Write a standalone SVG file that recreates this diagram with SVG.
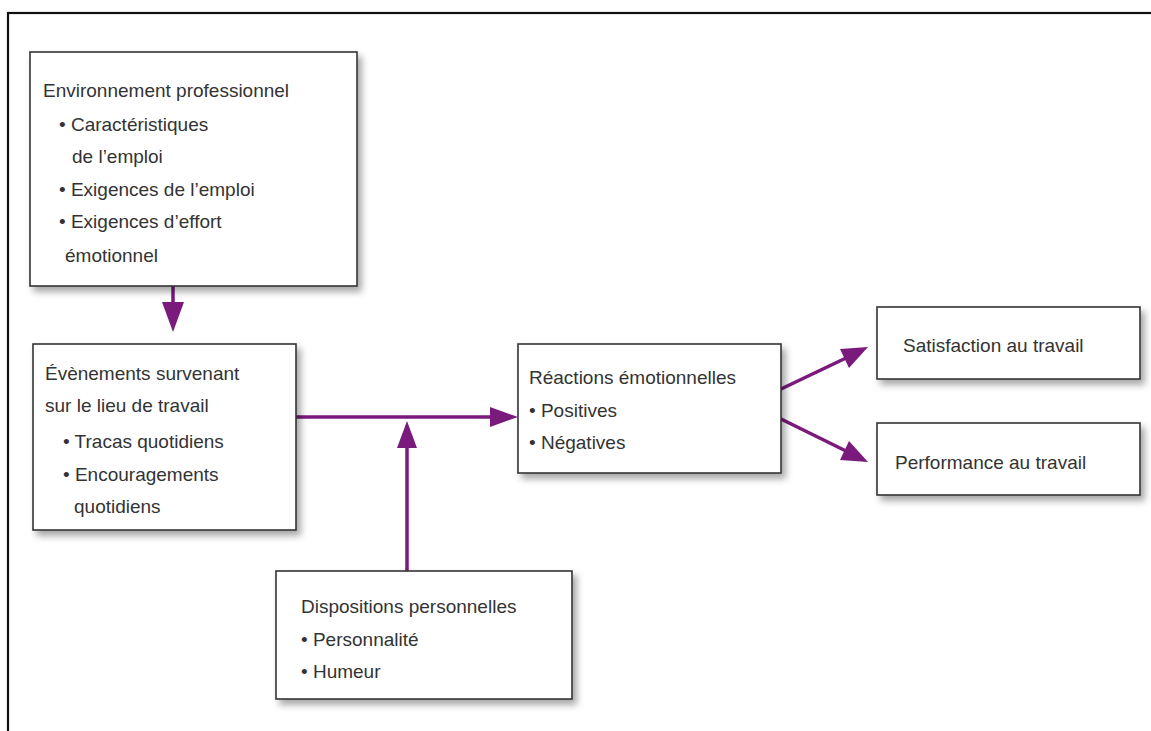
<svg xmlns="http://www.w3.org/2000/svg" width="1151" height="731" viewBox="0 0 1151 731">
<defs>
<style>
.frame{fill:none;stroke:#111;stroke-width:2.2}
.box{fill:#fff;stroke:#333;stroke-width:1.6;filter:url(#sh)}
.t{font-family:"Liberation Sans",Arial,sans-serif;font-size:19px;fill:#333}
.c{stroke:#7a1a7c;stroke-width:3.5;fill:none}
.ah{fill:#7a1a7c}
</style>
<filter id="sh" x="-10%" y="-10%" width="125%" height="130%">
<feDropShadow dx="4" dy="5" stdDeviation="3.5" flood-color="#000" flood-opacity="0.35"/>
</filter>
</defs>
<rect x="0" y="0" width="1151" height="731" fill="#fff"/>
<rect class="frame" x="8" y="13" width="1160" height="740"/>

<g id="connectors">
<line class="c" x1="173" y1="286" x2="173" y2="304"/>
<polygon class="ah" points="162,302 184,302 173,332"/>
<line class="c" x1="296" y1="417" x2="492" y2="417"/>
<polygon class="ah" points="490,407 490,427 518,417"/>
<line class="c" x1="407" y1="571" x2="407" y2="446"/>
<polygon class="ah" points="397,448 417,448 407,421"/>
<line class="c" x1="781" y1="389" x2="846" y2="358"/>
<polygon class="ah" points="868,347 849,368 840,349"/>
<line class="c" x1="781" y1="419" x2="846" y2="451"/>
<polygon class="ah" points="868,462 840,460 849,441"/>
</g>

<g id="n-environnement">
<rect class="box" x="30" y="52" width="327" height="234"/>
<text class="t" x="43" y="97">Environnement professionnel</text>
<text class="t" x="59" y="131">• Caractéristiques</text>
<text class="t" x="72" y="163">de l’emploi</text>
<text class="t" x="59" y="196">• Exigences de l’emploi</text>
<text class="t" x="59" y="228">• Exigences d’effort</text>
<text class="t" x="65" y="262">émotionnel</text>
</g>

<g id="n-evenements">
<rect class="box" x="33" y="344" width="263" height="186"/>
<text class="t" x="45" y="380">Évènements survenant</text>
<text class="t" x="45" y="412">sur le lieu de travail</text>
<text class="t" x="63" y="448">• Tracas quotidiens</text>
<text class="t" x="63" y="481">• Encouragements</text>
<text class="t" x="74" y="513">quotidiens</text>
</g>

<g id="n-reactions">
<rect class="box" x="518" y="344" width="263" height="129"/>
<text class="t" x="529" y="384">Réactions émotionnelles</text>
<text class="t" x="529" y="417">• Positives</text>
<text class="t" x="529" y="449">• Négatives</text>
</g>

<g id="n-satisfaction">
<rect class="box" x="877" y="307" width="263" height="72"/>
<text class="t" x="903" y="352">Satisfaction au travail</text>
</g>

<g id="n-performance">
<rect class="box" x="877" y="423" width="263" height="72"/>
<text class="t" x="895" y="469">Performance au travail</text>
</g>

<g id="n-dispositions">
<rect class="box" x="276" y="571" width="296" height="128"/>
<text class="t" x="301" y="613">Dispositions personnelles</text>
<text class="t" x="301" y="646">• Personnalité</text>
<text class="t" x="301" y="678">• Humeur</text>
</g>
</svg>
